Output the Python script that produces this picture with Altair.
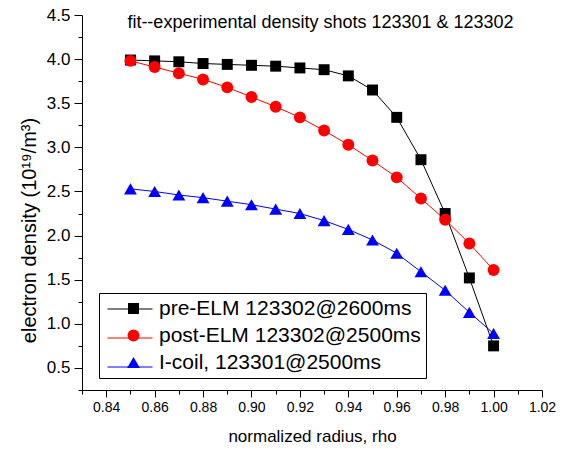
import altair as alt
import pandas as pd

# ---- data ----
rho = [0.85, 0.86, 0.87, 0.88, 0.89, 0.90, 0.91, 0.92, 0.93, 0.94, 0.95, 0.96, 0.97, 0.98, 0.99, 1.00]
pre_elm = [3.99, 3.98, 3.97, 3.95, 3.94, 3.93, 3.92, 3.90, 3.88, 3.81, 3.65, 3.34, 2.86, 2.25, 1.52, 0.75]
post_elm = [3.98, 3.91, 3.84, 3.77, 3.68, 3.57, 3.46, 3.34, 3.19, 3.03, 2.85, 2.66, 2.42, 2.18, 1.91, 1.61]
i_coil = [2.53, 2.50, 2.46, 2.43, 2.39, 2.35, 2.30, 2.25, 2.17, 2.07, 1.95, 1.80, 1.59, 1.38, 1.13, 0.89]
series_names = ["pre-ELM 123302@2600ms", "post-ELM 123302@2500ms", "I-coil, 123301@2500ms"]
colors = ["#000000", "#ff0000", "#0000ff"]
shapes = ["square", "circle", "triangle-up"]
marker_sizes = [120, 165, 200]
x_ticks = [round(0.83 + 0.01 * i, 2) for i in range(20)]
y_ticks = [round(0.25 * i, 2) for i in range(1, 19)]
chart_title = "fit--experimental density shots 123301 & 123302"

line_keys = [n + " (line)" for n in series_names]
rows = []
for name, key, vals in zip(series_names, line_keys, [pre_elm, post_elm, i_coil]):
    for r, v in zip(rho, vals):
        rows.append({"rho": r, "ne": v, "series": name, "line_key": key})
df = pd.DataFrame(rows)

FONT = "Liberation Sans"

x_axis = alt.Axis(
    values=x_ticks,
    labelExpr="round(datum.value*100) % 2 == 0 ? format(datum.value, '.2f') : ''",
    tickSize={"condition": {"test": "round(datum.value*100) % 2 == 0", "value": 7}, "value": 4},
    grid=False, labelFontSize=14, labelPadding=3, labelFlush=False, labelOverlap=False,
    title="normalized radius, rho", titleFontSize=17, titleFontWeight="normal",
    titleBaseline="middle", titleY=46,
)
# top axis used only to carry the in-plot title
title_axis = alt.Axis(
    orient="top", domain=False, ticks=False, labels=False, grid=False,
    title=chart_title, titleFontSize=18, titleFontWeight="normal",
    titleX=238, titleY=12, titleBaseline="alphabetic", titleAlign="center",
)
y_axis = alt.Axis(
    values=y_ticks,
    labelExpr="round(datum.value*100) % 50 == 0 ? format(datum.value, '.1f') : ''",
    tickSize={"condition": {"test": "round(datum.value*100) % 50 == 0", "value": 8}, "value": 4},
    grid=False, labelFontSize=17, labelPadding=4, labelFlush=False, labelOverlap=False,
    title="electron density (10¹⁹/m³)", titleFontSize=20, titleFontWeight="normal",
    titleBaseline="middle", titleX=-53, titleY=215, titleAngle=-90,
)

x_scale = alt.Scale(domain=[0.83, 1.02], nice=False, zero=False)
y_enc = alt.Y("ne:Q", scale=alt.Scale(domain=[0.25, 4.5], nice=False, zero=False), axis=y_axis)

lines = alt.Chart(df).mark_line(strokeWidth=1).encode(
    x=alt.X("rho:Q", scale=x_scale, axis=x_axis), y=y_enc,
    stroke=alt.Stroke("line_key:N", scale=alt.Scale(domain=line_keys, range=colors),
                      legend=alt.Legend(orient="none", legendX=17, legendY=266, title=None,
                                        padding=5, symbolType="stroke", symbolSize=2025,
                                        symbolStrokeWidth=1, symbolOffset=3,
                                        labelExpr="''", rowPadding=1)),
)

marker_legend = alt.Legend(orient="none", legendX=17, legendY=278, title=None, padding=5,
                           labelFontSize=21, labelFont=FONT, rowPadding=5, labelLimit=400,
                           symbolSize=150, symbolOffset=19, labelOffset=15, symbolStrokeWidth=0,
                           labelColor="black", strokeColor="#000000")

points = alt.Chart(df).mark_point(filled=True, opacity=1, strokeWidth=0).encode(
    x=alt.X("rho:Q", scale=x_scale, axis=title_axis), y=y_enc,
    color=alt.Color("series:N", scale=alt.Scale(domain=series_names, range=colors), legend=marker_legend),
    shape=alt.Shape("series:N", scale=alt.Scale(domain=series_names, range=shapes), legend=marker_legend),
    size=alt.Size("series:N", scale=alt.Scale(domain=series_names, range=marker_sizes), legend=None),
)

chart = alt.layer(lines, points).resolve_axis(x="independent").properties(
    width=460, height=375,
    autosize=alt.AutoSizeParams(type="none"),
    padding={"left": 82, "top": 15, "right": 19, "bottom": 61},
).configure(font=FONT, background="white").configure_view(strokeWidth=0).configure_axis(
    domainColor="black", tickColor="black", labelColor="black", titleColor="black",
    labelFont=FONT, titleFont=FONT, domainWidth=1, tickWidth=1,
)

chart.save("out.html", embed_options={"renderer": "svg", "actions": False})
